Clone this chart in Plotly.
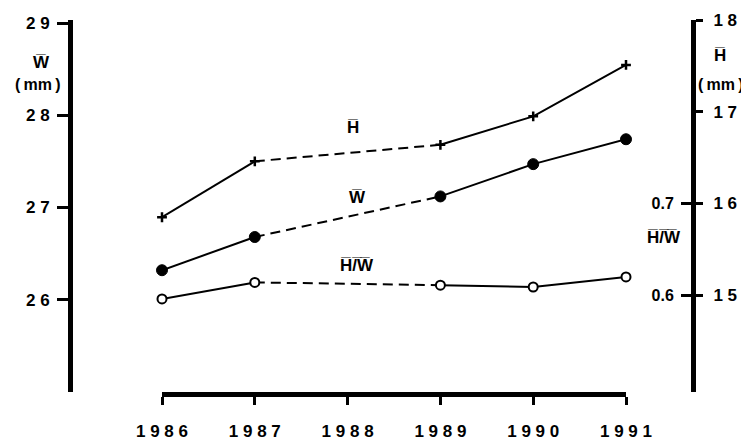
import plotly.graph_objects as go

# ---------------- data ----------------
years = [1986, 1987, 1989, 1990, 1991]
w_mean = [26.32, 26.68, 27.12, 27.47, 27.74]      # left axis, mm
h_mean = [15.85, 16.46, 16.64, 16.95, 17.51]      # right axis, mm
hw_ratio = [0.596, 0.614, 0.611, 0.609, 0.620]   # inner right axis

x_ticks = [1986, 1987, 1988, 1989, 1990, 1991]
x_tick_labels = ["1 9 8 6", "1 9 8 7", "1 9 8 8", "1 9 8 9", "1 9 9 0", "1 9 9 1"]
w_ticks = [26, 27, 28, 29]
w_tick_labels = ["2 6", "2 7", "2 8", "2 9"]
h_ticks = [15, 16, 17, 18]
h_tick_labels = ["1 5", "1 6", "1 7", "1 8"]
hw_ticks = [0.6, 0.7]
hw_tick_labels = ["0.6", "0.7"]

# index pairs joined by solid lines, and by dashed lines
solid_pairs = [(0, 1), (2, 4)]
dashed_pairs = [(1, 2)]

# page offset of the figure (default body margin)
OFF = 8
W, H = 749 - OFF, 441 - OFF
# plot area in page pixels
P_L, P_R, P_T, P_B = 70, 693, 20, 392
ML, MR, MT, MB = P_L - OFF, (OFF + W) - P_R, P_T - OFF, (OFF + H) - P_B
PW, PH = P_R - P_L, P_B - P_T
FONT = "Liberation Sans, Arial, sans-serif"
OL = "\u0305"
TS = "\u2009"


def px(x):
    return (x - P_L) / PW


def py(y):
    return (P_B - y) / PH


def segs(xs, ys, pairs):
    ox, oy = [], []
    for a, b in pairs:
        ox += xs[a:b + 1] + [None]
        oy += ys[a:b + 1] + [None]
    return ox, oy


fig = go.Figure()

series = [
    (h_mean, "y2", dict(symbol="cross-thin", size=7, color="black",
                        line=dict(color="black", width=2.5))),
    (w_mean, "y", dict(symbol="circle", size=11, color="black",
                       line=dict(color="black", width=1))),
    (hw_ratio, "y3", dict(symbol="circle", size=9, color="white",
                          line=dict(color="black", width=2))),
]

for vals, yax, mk in series:
    sx, sy = segs(years, vals, solid_pairs)
    fig.add_trace(go.Scatter(x=sx, y=sy, yaxis=yax, mode="lines",
                             line=dict(color="black", width=2),
                             connectgaps=False, cliponaxis=False,
                             hoverinfo="skip", showlegend=False))
    dx, dy = segs(years, vals, dashed_pairs)
    fig.add_trace(go.Scatter(x=dx, y=dy, yaxis=yax, mode="lines",
                             line=dict(color="black", width=2, dash="10px,6px"),
                             connectgaps=False, cliponaxis=False,
                             hoverinfo="skip", showlegend=False))
for vals, yax, mk in series:
    fig.add_trace(go.Scatter(x=years, y=vals, yaxis=yax, mode="markers",
                             marker=mk, cliponaxis=False, showlegend=False))

tickfont = dict(family=FONT, size=17, color="black", weight="bold")

fig.update_layout(
    width=W, height=H,
    margin=dict(l=ML, r=MR, t=MT, b=MB, pad=0),
    paper_bgcolor="white", plot_bgcolor="rgba(0,0,0,0)",
    showlegend=False,
    xaxis=dict(domain=[px(162), px(626)], range=[1986, 1991],
               anchor="y",
               tickmode="array", tickvals=x_ticks, ticktext=x_tick_labels,
               ticks="outside", ticklen=8, tickwidth=2.5, tickcolor="black",
               ticklabelstandoff=12,
               showline=True, linewidth=5, linecolor="black",
               showgrid=False, zeroline=False, tickfont=tickfont,
               automargin=False),
    yaxis=dict(domain=[0, 1], range=[25, 25 + PH / 92.25],
               anchor="free", position=0, side="left",
               tickmode="array", tickvals=w_ticks, ticktext=w_tick_labels,
               ticks="outside", ticklen=11, tickwidth=2.5, tickcolor="black",
               ticklabelstandoff=4,
               showline=True, linewidth=5, linecolor="black",
               showgrid=False, zeroline=False, tickfont=tickfont,
               automargin=False),
    yaxis2=dict(range=[14 - 5 / 91.75, 18], overlaying="y",
                anchor="free", position=1, side="right",
                tickmode="array", tickvals=h_ticks, ticktext=h_tick_labels,
                ticks="outside", ticklen=7, tickwidth=2.5, tickcolor="black",
                ticklabelstandoff=7,
                showline=True, linewidth=5, linecolor="black",
                showgrid=False, zeroline=False, tickfont=tickfont,
                automargin=False),
    yaxis3=dict(range=[0.6 - (P_B - 295.25) / 917.5, 0.9], overlaying="y",
                anchor="free", position=1, side="left",
                tickmode="array", tickvals=hw_ticks, ticktext=hw_tick_labels,
                ticks="outside", ticklen=12, tickwidth=2.5, tickcolor="black",
                ticklabelstandoff=4,
                showline=False,
                showgrid=False, zeroline=False,
                tickfont=dict(family=FONT, size=16, color="black", weight="bold"),
                automargin=False),
)

labels = [
    ("W" + OL, 41, 62, 17),
    ("(" + TS + "mm" + TS + ")", 38, 85, 16),
    ("H" + OL, 720, 55, 17),
    ("(" + TS + "mm" + TS + ")", 721, 85, 16),
    ("H" + OL + "/" + OL + "W" + OL, 664, 238, 17),
    ("H" + OL, 353, 128, 17),
    ("W" + OL, 357, 197, 17),
    ("H" + OL + "/" + OL + "W" + OL, 357, 265, 17),
]
for txt, x, y, s in labels:
    fig.add_annotation(text=txt, x=px(x), y=py(y), xref="paper", yref="paper",
                       showarrow=False, xanchor="center", yanchor="middle",
                       font=dict(family=FONT, size=s, color="black", weight="bold"))

fig.write_html("out.html")
